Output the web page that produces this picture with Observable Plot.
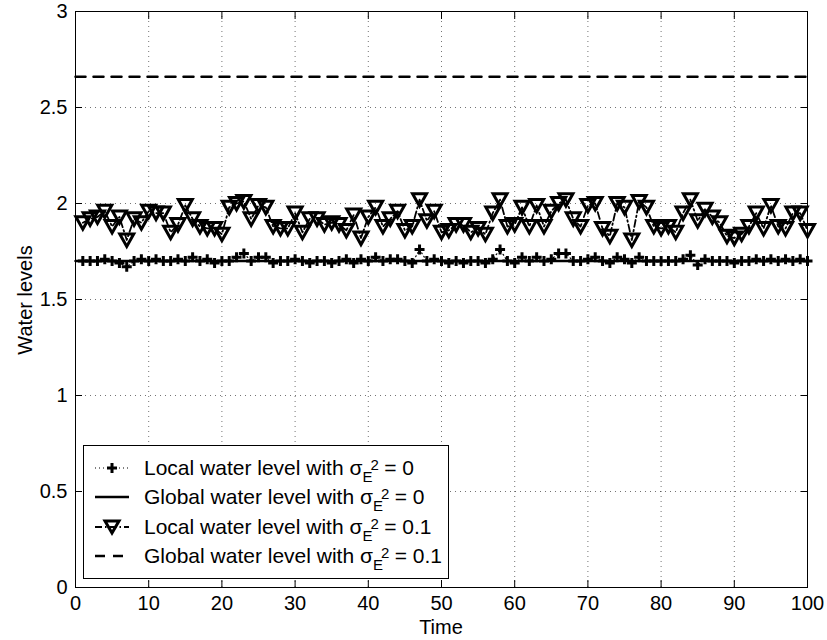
<!DOCTYPE html>
<html><head><meta charset="utf-8">
<script src="https://cdn.jsdelivr.net/npm/d3@7"></script>
<script src="https://cdn.jsdelivr.net/npm/@observablehq/plot@0.6"></script>
<style>
body{margin:0;background:#fff;font-family:"Liberation Sans",Arial,Helvetica,sans-serif;}
#wrap{position:relative;width:827px;height:640px;}
#legend{position:absolute;left:83px;top:445px;width:364px;height:132px;border:1px solid #000;background:#fff;font-size:21px;color:#000;}
.row{position:absolute;left:0;width:364px;height:30px;}
.row svg{position:absolute;left:9px;top:2px;}
.row .txt{position:absolute;left:60px;top:0;line-height:30px;white-space:nowrap;}
.ss{position:relative;display:inline-block;width:16px;height:1px;vertical-align:baseline;}
.ss .sup,.ss .sub{position:absolute;font-size:15px;line-height:15px;}
.ss .sup{left:8px;top:-17px;}
.ss .sub{left:0px;top:-5px;}
.axlab{position:absolute;font-size:20px;color:#000;line-height:23px;white-space:nowrap;}
</style></head>
<body><div id="wrap"></div>
<script>
const times = d3.range(1, 101);
const localLevel0 = [
1.70,1.70,1.70,1.71,1.70,1.69,1.67,1.70,1.71,1.70,
1.71,1.70,1.70,1.71,1.70,1.72,1.70,1.71,1.69,1.70,
1.70,1.72,1.74,1.70,1.72,1.72,1.69,1.70,1.70,1.71,
1.70,1.69,1.70,1.70,1.69,1.70,1.71,1.69,1.71,1.70,
1.72,1.70,1.71,1.71,1.70,1.69,1.76,1.70,1.71,1.70,
1.69,1.70,1.69,1.70,1.70,1.69,1.71,1.76,1.70,1.69,
1.72,1.70,1.72,1.70,1.71,1.74,1.74,1.70,1.70,1.71,
1.72,1.70,1.69,1.72,1.71,1.69,1.72,1.70,1.70,1.70,
1.70,1.70,1.71,1.73,1.68,1.71,1.70,1.70,1.70,1.69,
1.70,1.70,1.71,1.70,1.71,1.70,1.71,1.70,1.71,1.70];
const localLevel01 = [
1.90,1.92,1.93,1.96,1.88,1.93,1.81,1.92,1.90,1.96,
1.95,1.95,1.85,1.89,1.99,1.92,1.88,1.87,1.87,1.84,
1.98,2.00,2.01,1.92,1.99,1.98,1.88,1.87,1.87,1.95,
1.85,1.92,1.92,1.89,1.90,1.89,1.86,1.94,1.82,1.93,
1.98,1.88,1.92,1.96,1.86,1.88,2.02,1.91,1.96,1.85,
1.86,1.89,1.89,1.85,1.87,1.84,1.95,2.02,1.88,1.89,
1.98,1.88,1.99,1.88,1.96,2.00,2.02,1.92,1.88,1.99,
2.00,1.87,1.83,2.00,1.98,1.81,2.01,1.98,1.88,1.87,
1.88,1.85,1.95,2.02,1.91,1.97,1.93,1.90,1.83,1.82,
1.84,1.88,1.95,1.87,1.99,1.88,1.87,1.95,1.95,1.86];
const globalLevel0 = 1.70;
const globalLevel01 = 2.66;
const globalSpan = [0, 100];
const xTicks = [0,10,20,30,40,50,60,70,80,90,100];
const yTicks = [0,0.5,1,1.5,2,2.5,3];
const xTickLabels = ["0","10","20","30","40","50","60","70","80","90","100"];
const yTickLabels = ["0","0.5","1","1.5","2","2.5","3"];

const dataL0 = times.map((t, i) => ({t, v: localLevel0[i]}));
const dataL01 = times.map((t, i) => ({t, v: localLevel01[i]}));
const dataG0 = globalSpan.map(t => ({t, v: globalLevel0}));
const dataG01 = globalSpan.map(t => ({t, v: globalLevel01}));

const triDown = {draw(ctx, size){const a = Math.sqrt(size/Math.PI); ctx.moveTo(-1.4*a,-1.2*a); ctx.lineTo(1.4*a,-1.2*a); ctx.lineTo(0,1.3*a); ctx.closePath();}};
const plusSym = {draw(ctx, size){const a = Math.sqrt(size/Math.PI); ctx.moveTo(-a,0); ctx.lineTo(a,0); ctx.moveTo(0,-a); ctx.lineTo(0,a);}};

const fmtX = d => xTickLabels[xTicks.indexOf(d)];
const fmtY = d => yTickLabels[yTicks.indexOf(d)];

const plot = Plot.plot({
  width: 827, height: 640,
  marginLeft: 75, marginRight: 20, marginTop: 11, marginBottom: 53,
  x: {domain: [0, 100]},
  y: {domain: [0, 3]},
  style: {fontFamily: '"Liberation Sans",Arial,Helvetica,sans-serif', fontSize: "20px", color: "#000", background: "#fff"},
  marks: [
    Plot.gridX(xTicks.slice(1, -1), {stroke: "#000", strokeOpacity: 0.55, strokeDasharray: "1,4"}),
    Plot.gridY(yTicks.slice(1, -1), {stroke: "#000", strokeOpacity: 0.55, strokeDasharray: "1,4"}),
    Plot.line(dataL0, {x: "t", y: "v", stroke: "#000", strokeWidth: 1.2, strokeDasharray: "1,3"}),
    Plot.line(dataG0, {x: "t", y: "v", stroke: "#000", strokeWidth: 2.5}),
    Plot.line(dataL01, {x: "t", y: "v", stroke: "#000", strokeWidth: 1.8, strokeDasharray: "7,3,1.5,3"}),
    Plot.line(dataG01, {x: "t", y: "v", stroke: "#000", strokeWidth: 2.5, strokeDasharray: "10,8"}),
    Plot.dot(dataL0, {x: "t", y: "v", symbol: plusSym, r: 5, stroke: "#000", fill: "none", strokeWidth: 3}),
    Plot.dot(dataL01, {x: "t", y: "v", symbol: triDown, r: 5, stroke: "#000", fill: "none", strokeWidth: 3}),
    Plot.axisX(xTicks, {anchor: "bottom", tickSize: -7, tickPadding: 15, tickFormat: fmtX, label: null}),
    Plot.axisX(xTicks, {anchor: "top", tickSize: -7, tickFormat: () => "", label: null}),
    Plot.axisY(yTicks, {anchor: "left", tickSize: -7, tickPadding: 15, tickFormat: fmtY, label: null}),
    Plot.axisY(yTicks, {anchor: "right", tickSize: -7, tickFormat: () => "", label: null}),
    Plot.frame({stroke: "#000", strokeWidth: 1})
  ]
});
const wrap = document.getElementById("wrap");
wrap.appendChild(plot);

function addLabel(text, css){const d = document.createElement("div"); d.className = "axlab"; d.textContent = text; Object.assign(d.style, css); wrap.appendChild(d);}
addLabel("Time", {left: "441px", top: "616px", transform: "translateX(-50%)"});
addLabel("Water levels", {left: "25px", top: "300px", transform: "translate(-50%,-50%) rotate(-90deg)"});

const legendItems = [
  {name: "Local water level with", val: "0", kind: "l0"},
  {name: "Global water level with", val: "0", kind: "g0"},
  {name: "Local water level with", val: "0.1", kind: "l01"},
  {name: "Global water level with", val: "0.1", kind: "g01"}
];
const legend = document.createElement("div"); legend.id = "legend";
legendItems.forEach((it, i) => {
  const row = document.createElement("div"); row.className = "row";
  row.style.top = (6.5 + i * 29.5) + "px";
  let sw = "";
  if (it.kind === "l0") sw = `<line x1="2" x2="36" y1="13" y2="13" stroke="#000" stroke-width="1.2" stroke-dasharray="1,3"/><path d="M14,13H24M19,8V18" stroke="#000" stroke-width="3"/>`;
  if (it.kind === "g0") sw = `<line x1="2" x2="36" y1="13" y2="13" stroke="#000" stroke-width="2.5"/>`;
  if (it.kind === "l01") sw = `<line x1="2" x2="36" y1="13" y2="13" stroke="#000" stroke-width="1.8" stroke-dasharray="7,3,1.5,3"/><path d="M12,7H26L19,19Z" stroke="#000" stroke-width="3" fill="none"/>`;
  if (it.kind === "g01") sw = `<line x1="2" x2="36" y1="13" y2="13" stroke="#000" stroke-width="2.5" stroke-dasharray="10,8"/>`;
  row.innerHTML = `<svg width="38" height="26">${sw}</svg><span class="txt">${it.name} σ<span class="ss"><span class="sup">2</span><span class="sub">E</span></span> = ${it.val}</span>`;
  legend.appendChild(row);
});
wrap.appendChild(legend);
</script>
</body></html>
